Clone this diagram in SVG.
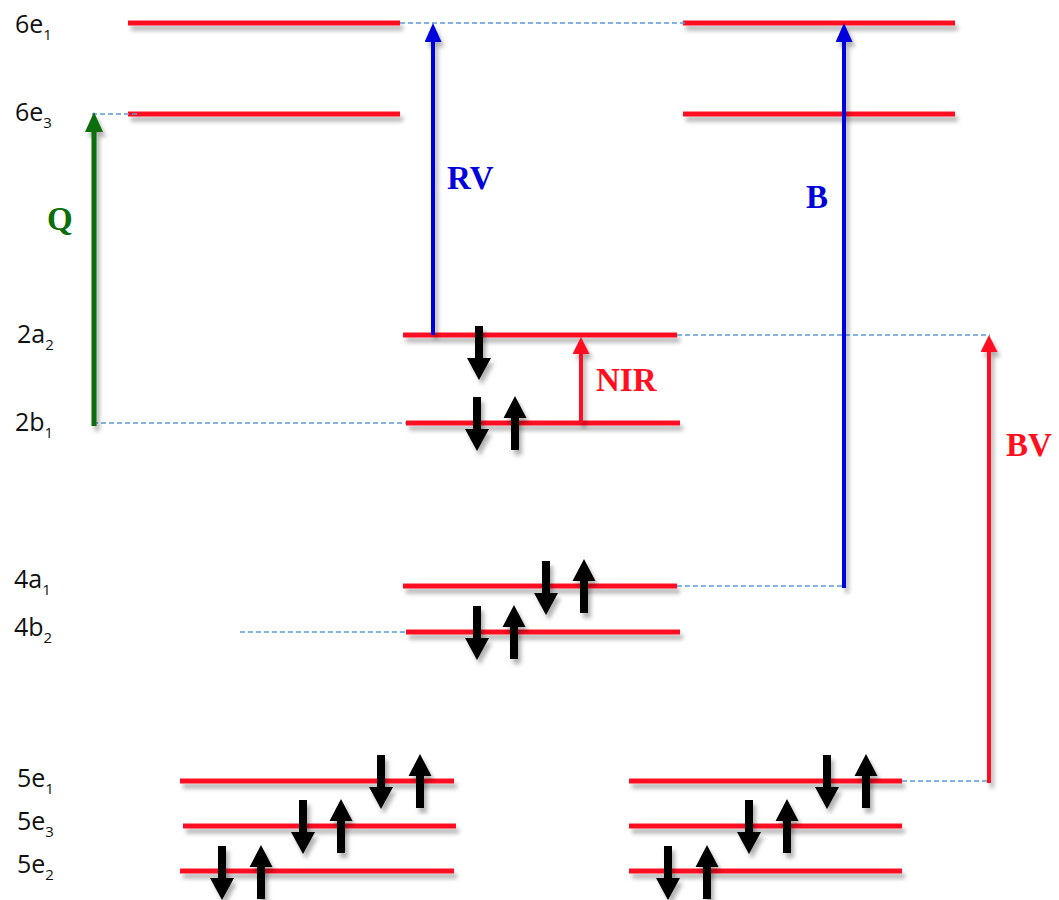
<svg xmlns="http://www.w3.org/2000/svg" xmlns:xlink="http://www.w3.org/1999/xlink" width="1059" height="900" viewBox="0 0 1059 900">
<style>
.lvl{stroke:#ff1020;stroke-width:5;fill:none}
.dash{stroke:#5b9bd5;stroke-width:1.3;stroke-dasharray:5 3;fill:none}
.lab{font-family:"Open Sans","Liberation Sans",sans-serif;font-size:25px;fill:#111}
.sub{font-size:15px}
.big{font-family:"Liberation Serif",serif;font-weight:bold;font-size:33px}
.spin{fill:#000}
</style>
<defs>
<filter id="sh" filterUnits="userSpaceOnUse" x="0" y="0" width="1059" height="900">
<feDropShadow dx="3" dy="5" stdDeviation="2" flood-color="#000" flood-opacity="0.3"/>
</filter>
<filter id="sh2" x="-50%" y="-30%" width="200%" height="160%">
<feDropShadow dx="3" dy="5" stdDeviation="2" flood-color="#000" flood-opacity="0.3"/>
</filter>
<marker id="hG" markerUnits="userSpaceOnUse" viewBox="0 0 20 18" refX="0" refY="9" markerWidth="20" markerHeight="18" orient="auto"><path d="M0,0 L20,9 L0,18 Z" fill="#0a6e0a"/></marker>
<marker id="hB" markerUnits="userSpaceOnUse" viewBox="0 0 19 17" refX="0" refY="8.5" markerWidth="19" markerHeight="17" orient="auto"><path d="M0,0 L19,8.5 L0,17 Z" fill="#0000dd"/></marker>
<marker id="hR" markerUnits="userSpaceOnUse" viewBox="0 0 17 17" refX="0" refY="8.5" markerWidth="17" markerHeight="17" orient="auto"><path d="M0,0 L17,8.5 L0,17 Z" fill="#ff1020"/></marker>
<path id="dn" class="spin" d="M-4,0 H4 V32 H12 L0,54 L-12,32 H-4 Z"/>
<path id="up" class="spin" d="M-4,54 H4 V22 H11.5 L0,0 L-11.5,22 H-4 Z"/>
</defs>
<rect width="1059" height="900" fill="#fff"/>

<g id="lvl-6e1">
<line class="lvl" filter="url(#sh)" x1="128" y1="23" x2="400" y2="23"/>
<line class="lvl" filter="url(#sh)" x1="683" y1="23" x2="955" y2="23"/>
<text class="lab" x="15" y="33">6e<tspan class="sub" dy="7">1</tspan></text>
</g>
<g id="lvl-6e3">
<line class="lvl" filter="url(#sh)" x1="128" y1="114" x2="400" y2="114"/>
<line class="lvl" filter="url(#sh)" x1="683" y1="114" x2="955" y2="114"/>
<text class="lab" x="15" y="121">6e<tspan class="sub" dy="7">3</tspan></text>
</g>
<g id="lvl-2a2">
<line class="lvl" filter="url(#sh)" x1="403" y1="335" x2="677" y2="335"/>
<use xlink:href="#dn" href="#dn" x="479" y="326" filter="url(#sh2)"/>
<text class="lab" x="17" y="343">2a<tspan class="sub" dy="7">2</tspan></text>
</g>
<g id="lvl-2b1">
<line class="lvl" filter="url(#sh)" x1="406" y1="423" x2="680" y2="423"/>
<use xlink:href="#dn" href="#dn" x="477" y="397" filter="url(#sh2)"/>
<use xlink:href="#up" href="#up" x="515" y="396" filter="url(#sh2)"/>
<text class="lab" x="15" y="431">2b<tspan class="sub" dy="7">1</tspan></text>
</g>
<g id="lvl-4a1">
<line class="lvl" filter="url(#sh)" x1="403" y1="586" x2="677" y2="586"/>
<use xlink:href="#dn" href="#dn" x="546" y="561" filter="url(#sh2)"/>
<use xlink:href="#up" href="#up" x="584" y="559" filter="url(#sh2)"/>
<text class="lab" x="14" y="588">4a<tspan class="sub" dy="7">1</tspan></text>
</g>
<g id="lvl-4b2">
<line class="lvl" filter="url(#sh)" x1="406" y1="632" x2="680" y2="632"/>
<use xlink:href="#dn" href="#dn" x="477" y="606" filter="url(#sh2)"/>
<use xlink:href="#up" href="#up" x="514" y="605" filter="url(#sh2)"/>
<text class="lab" x="14" y="636">4b<tspan class="sub" dy="7">2</tspan></text>
</g>
<g id="lvl-5e1">
<line class="lvl" filter="url(#sh)" x1="180" y1="781" x2="454" y2="781"/>
<line class="lvl" filter="url(#sh)" x1="629" y1="781" x2="902" y2="781"/>
<use xlink:href="#dn" href="#dn" x="381" y="755" filter="url(#sh2)"/>
<use xlink:href="#up" href="#up" x="420" y="754" filter="url(#sh2)"/>
<use xlink:href="#dn" href="#dn" x="827" y="755" filter="url(#sh2)"/>
<use xlink:href="#up" href="#up" x="866" y="754" filter="url(#sh2)"/>
<text class="lab" x="17" y="787">5e<tspan class="sub" dy="7">1</tspan></text>
</g>
<g id="lvl-5e3">
<line class="lvl" filter="url(#sh)" x1="183" y1="826" x2="456" y2="826"/>
<line class="lvl" filter="url(#sh)" x1="629" y1="826" x2="902" y2="826"/>
<use xlink:href="#dn" href="#dn" x="303" y="800" filter="url(#sh2)"/>
<use xlink:href="#up" href="#up" x="341" y="799" filter="url(#sh2)"/>
<use xlink:href="#dn" href="#dn" x="749" y="800" filter="url(#sh2)"/>
<use xlink:href="#up" href="#up" x="787" y="799" filter="url(#sh2)"/>
<text class="lab" x="17" y="830">5e<tspan class="sub" dy="7">3</tspan></text>
</g>
<g id="lvl-5e2">
<line class="lvl" filter="url(#sh)" x1="180" y1="871" x2="454" y2="871"/>
<line class="lvl" filter="url(#sh)" x1="629" y1="871" x2="902" y2="871"/>
<use xlink:href="#dn" href="#dn" x="222" y="846" filter="url(#sh2)"/>
<use xlink:href="#up" href="#up" x="261" y="845" filter="url(#sh2)"/>
<use xlink:href="#dn" href="#dn" x="668" y="846" filter="url(#sh2)"/>
<use xlink:href="#up" href="#up" x="707" y="845" filter="url(#sh2)"/>
<text class="lab" x="17" y="873">5e<tspan class="sub" dy="7">2</tspan></text>
</g>

<g id="connectors">
<line class="dash" x1="400" y1="23" x2="686" y2="23"/>
<line class="dash" x1="92" y1="114" x2="140" y2="114"/>
<line class="dash" x1="677" y1="335" x2="990" y2="335"/>
<line class="dash" x1="93" y1="423" x2="406" y2="423"/>
<line class="dash" x1="677" y1="586" x2="845" y2="586"/>
<line class="dash" x1="240" y1="632" x2="406" y2="632"/>
<line class="dash" x1="902" y1="781" x2="990" y2="781"/>
<g filter="url(#sh)">
<line x1="94" y1="426" x2="94" y2="132" stroke="#0a6e0a" stroke-width="5" marker-end="url(#hG)"/>
<line x1="433" y1="335" x2="433" y2="42" stroke="#0000dd" stroke-width="4" marker-end="url(#hB)"/>
<line x1="844" y1="588" x2="844" y2="42" stroke="#0000dd" stroke-width="4" marker-end="url(#hB)"/>
<line x1="581" y1="423" x2="581" y2="354" stroke="#ff1020" stroke-width="4" marker-end="url(#hR)"/>
<line x1="989" y1="783" x2="989" y2="352" stroke="#ff1020" stroke-width="4" marker-end="url(#hR)"/>
</g>
<text class="big" x="47" y="230" fill="#0a6e0a">Q</text>
<text class="big" x="447" y="189" fill="#0000dd">RV</text>
<text class="big" x="806" y="208" fill="#0000dd">B</text>
<text class="big" x="596" y="391" fill="#ff1020">NIR</text>
<text class="big" x="1006" y="456" fill="#ff1020">BV</text>
</g>
</svg>
